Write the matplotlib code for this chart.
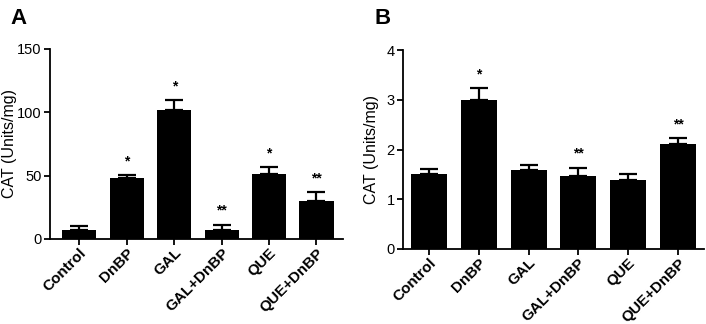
import matplotlib
matplotlib.use("Agg")
import matplotlib.pyplot as plt

plt.rcParams['font.family'] = ['Liberation Sans', 'DejaVu Sans']

groups = ['Control', 'DnBP', 'GAL', 'GAL+DnBP', 'QUE', 'QUE+DnBP']

# Panel A
cat_a = [7.5, 48, 101.5, 7.5, 51, 30]
err_a = [3, 2.5, 8, 3.7, 5.5, 7]
sig_a = ['', '*', '*', '**', '*', '**']

# Panel B
cat_b = [1.5, 3.0, 1.58, 1.47, 1.38, 2.12]
err_b = [0.11, 0.23, 0.11, 0.16, 0.12, 0.11]
sig_b = ['', '*', '', '**', '', '**']

fig = plt.figure(figsize=(7.06, 3.24), dpi=100)
ax_a = fig.add_axes([50/706, 1-239/324, 293/706, 190/324])
ax_b = fig.add_axes([403/706, 1-249/324, 301/706, 199/324])


def draw(ax, vals, errs, sigs, ylim, yticks, xlim, label_x):
    x = range(len(groups))
    ax.bar(x, vals, width=0.72, color='black', zorder=2)
    ax.errorbar(x, vals, yerr=[[0]*len(vals), errs], fmt='none',
                ecolor='black', elinewidth=1.6, capsize=6.5, capthick=1.6, zorder=1)
    for i, s in enumerate(sigs):
        if s:
            ax.annotate(s, (i, vals[i] + errs[i]), xytext=(0, 5),
                        textcoords='offset points', ha='center', va='bottom',
                        fontsize=10, fontweight='bold')
    ax.set_ylim(*ylim)
    ax.set_xlim(*xlim)
    ax.set_yticks(yticks)
    ax.set_xticks(list(x))
    ax.set_xticklabels(groups, rotation=45, ha='right', rotation_mode='anchor',
                       fontweight='bold', fontsize=11)
    ax.tick_params(axis='y', labelsize=10.5, width=1.3, length=4, pad=2)
    ax.tick_params(axis='x', width=1.3, length=4, pad=1)
    ax.spines['top'].set_visible(False)
    ax.spines['right'].set_visible(False)
    ax.spines['left'].set_linewidth(1.3)
    ax.spines['bottom'].set_linewidth(1.3)
    ax.set_ylabel('CAT (Units/mg)', fontsize=11.5, va='center')
    ax.yaxis.set_label_coords(label_x, 0.5)


draw(ax_a, cat_a, err_a, sig_a, (0, 150), [0, 50, 100, 150], (-0.62, 5.56), -0.138)
draw(ax_b, cat_b, err_b, sig_b, (0, 4), [0, 1, 2, 3, 4], (-0.52, 5.52), -0.106)

fig.text(10/706, 1-18/324, 'A', fontsize=16, fontweight='bold', va='center')
fig.text(374/706, 1-18/324, 'B', fontsize=16, fontweight='bold', va='center')

fig.savefig('out.png', dpi=100)
